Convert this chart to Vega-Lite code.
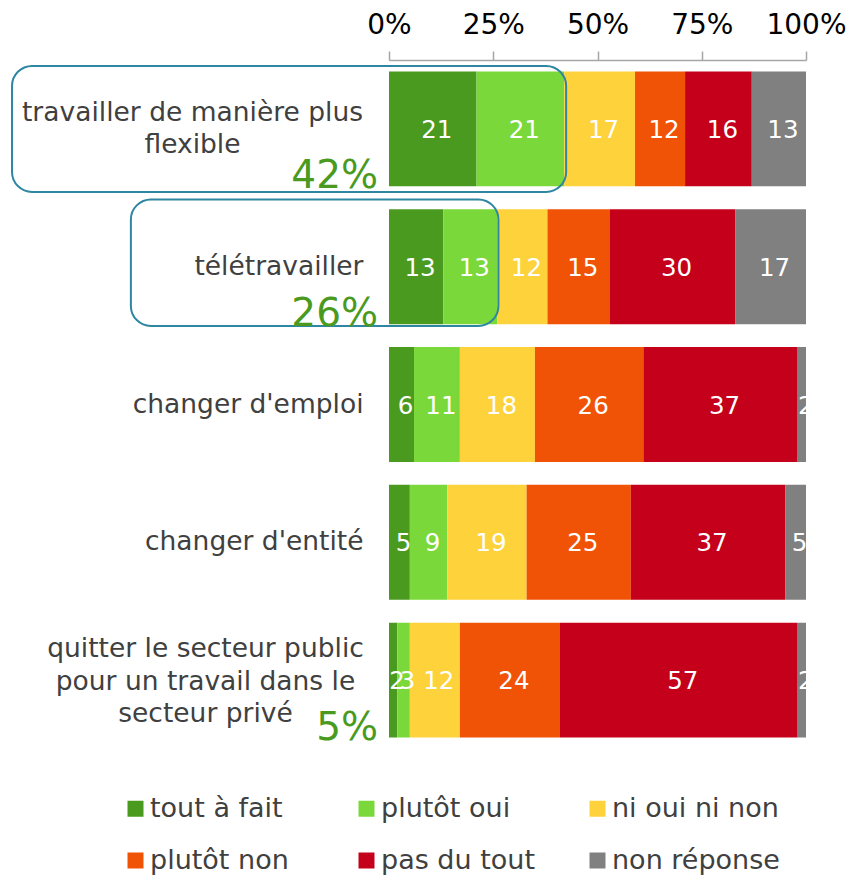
{
  "$schema": "https://vega.github.io/schema/vega-lite/v6.json",
  "width": 417,
  "height": 689,
  "autosize": {"type": "none"},
  "padding": {"left": 389, "top": 60, "right": 42, "bottom": 126},
  "background": "white",
  "config": {"font": "DejaVu Sans", "view": {"stroke": null}},
  "datasets": {
    "donnees": [
      {"question": "travailler de manière plus flexible", "reponse": "tout à fait", "code": 1, "pct": 21},
      {"question": "travailler de manière plus flexible", "reponse": "plutôt oui", "code": 2, "pct": 21},
      {"question": "travailler de manière plus flexible", "reponse": "ni oui ni non", "code": 3, "pct": 17},
      {"question": "travailler de manière plus flexible", "reponse": "plutôt non", "code": 4, "pct": 12},
      {"question": "travailler de manière plus flexible", "reponse": "pas du tout", "code": 5, "pct": 16},
      {"question": "travailler de manière plus flexible", "reponse": "non réponse", "code": 6, "pct": 13},
      {"question": "télétravailler", "reponse": "tout à fait", "code": 1, "pct": 13},
      {"question": "télétravailler", "reponse": "plutôt oui", "code": 2, "pct": 13},
      {"question": "télétravailler", "reponse": "ni oui ni non", "code": 3, "pct": 12},
      {"question": "télétravailler", "reponse": "plutôt non", "code": 4, "pct": 15},
      {"question": "télétravailler", "reponse": "pas du tout", "code": 5, "pct": 30},
      {"question": "télétravailler", "reponse": "non réponse", "code": 6, "pct": 17},
      {"question": "changer d'emploi", "reponse": "tout à fait", "code": 1, "pct": 6},
      {"question": "changer d'emploi", "reponse": "plutôt oui", "code": 2, "pct": 11},
      {"question": "changer d'emploi", "reponse": "ni oui ni non", "code": 3, "pct": 18},
      {"question": "changer d'emploi", "reponse": "plutôt non", "code": 4, "pct": 26},
      {"question": "changer d'emploi", "reponse": "pas du tout", "code": 5, "pct": 37},
      {"question": "changer d'emploi", "reponse": "non réponse", "code": 6, "pct": 2},
      {"question": "changer d'entité", "reponse": "tout à fait", "code": 1, "pct": 5},
      {"question": "changer d'entité", "reponse": "plutôt oui", "code": 2, "pct": 9},
      {"question": "changer d'entité", "reponse": "ni oui ni non", "code": 3, "pct": 19},
      {"question": "changer d'entité", "reponse": "plutôt non", "code": 4, "pct": 25},
      {"question": "changer d'entité", "reponse": "pas du tout", "code": 5, "pct": 37},
      {"question": "changer d'entité", "reponse": "non réponse", "code": 6, "pct": 5},
      {"question": "quitter le secteur public pour un travail dans le secteur privé", "reponse": "tout à fait", "code": 1, "pct": 2},
      {"question": "quitter le secteur public pour un travail dans le secteur privé", "reponse": "plutôt oui", "code": 2, "pct": 3},
      {"question": "quitter le secteur public pour un travail dans le secteur privé", "reponse": "ni oui ni non", "code": 3, "pct": 12},
      {"question": "quitter le secteur public pour un travail dans le secteur privé", "reponse": "plutôt non", "code": 4, "pct": 24},
      {"question": "quitter le secteur public pour un travail dans le secteur privé", "reponse": "pas du tout", "code": 5, "pct": 57},
      {"question": "quitter le secteur public pour un travail dans le secteur privé", "reponse": "non réponse", "code": 6, "pct": 2}
    ],
    "annotations": [
      {"question": "travailler de manière plus flexible", "total": 42, "libelle": "42%"},
      {"question": "télétravailler", "total": 26, "libelle": "26%"},
      {"question": "quitter le secteur public pour un travail dans le secteur privé", "total": 5, "libelle": "5%"}
    ]
  },
  "data": {"name": "donnees"},
  "encoding": {
    "y": {
      "field": "question",
      "type": "nominal",
      "sort": ["travailler de manière plus flexible", "télétravailler", "changer d'emploi", "changer d'entité", "quitter le secteur public pour un travail dans le secteur privé"],
      "scale": {"paddingInner": 0.166, "paddingOuter": 0.083},
      "axis": {
        "title": null,
        "domain": false,
        "ticks": false,
        "tickSize": 0,
        "labelFont": "DejaVu Sans",
        "labelFontSize": 26.5,
        "labelColor": "#404040",
        "labelLineHeight": 32.5,
        "labelLimit": 400,
        "labelBaseline": "middle",
        "labelExpr": "datum.value == 'travailler de manière plus flexible' ? ['travailler de manière plus', 'flexible'] : (datum.value == 'quitter le secteur public pour un travail dans le secteur privé' ? ['quitter le secteur public', 'pour un travail dans le', 'secteur privé'] : datum.label)",
        "labelAlign": {"condition": {"test": "datum.value == 'travailler de manière plus flexible' || datum.value == 'quitter le secteur public pour un travail dans le secteur privé'", "value": "center"}, "value": "right"},
        "labelPadding": {"condition": [{"test": "datum.value == 'travailler de manière plus flexible'", "value": 197}, {"test": "datum.value == 'quitter le secteur public pour un travail dans le secteur privé'", "value": 184}], "value": 26},
        "labelOffset": {"condition": [{"test": "datum.value == 'travailler de manière plus flexible'", "value": -16}, {"test": "datum.value == 'quitter le secteur public pour un travail dans le secteur privé'", "value": -31}], "value": 0}
      }
    }
  },
  "layer": [
    {
      "mark": {"type": "bar"},
      "encoding": {
        "x": {
          "field": "pct",
          "type": "quantitative",
          "stack": "zero",
          "scale": {"domain": [0, 100], "nice": false},
          "axis": {
            "orient": "top",
            "title": null,
            "values": [0, 25, 50, 75, 100],
            "labelExpr": "datum.value + '%'",
            "grid": false,
            "domainColor": "#a6a6a6",
            "domainWidth": 1.5,
            "tickColor": "#a6a6a6",
            "tickWidth": 1.5,
            "tickSize": 9,
            "labelFont": "DejaVu Sans",
            "labelFontSize": 28,
            "labelColor": "#000000",
            "labelPadding": 12,
            "labelFlush": false,
            "labelOverlap": false,
            "labelBound": false
          }
        },
        "color": {
          "field": "reponse",
          "type": "nominal",
          "scale": {
            "domain": ["tout à fait", "plutôt oui", "ni oui ni non", "plutôt non", "pas du tout", "non réponse"],
            "range": ["#4a9a20", "#7bd83a", "#fed23a", "#f05206", "#c4001a", "#808080"]
          },
          "legend": {
            "title": null,
            "orient": "none",
            "legendX": -267,
            "legendY": 735,
            "direction": "horizontal",
            "columns": 3,
            "gridAlign": "all",
            "columnPadding": 35,
            "rowPadding": 24,
            "padding": 0,
            "symbolType": "square",
            "symbolSize": 256,
            "symbolStrokeWidth": 0,
            "symbolOpacity": 1,
            "labelFont": "DejaVu Sans",
            "labelFontSize": 27,
            "labelColor": "#404040",
            "labelOffset": 1,
            "labelLimit": 300
          }
        },
        "order": {"field": "code", "type": "quantitative"}
      }
    },
    {
      "mark": {"type": "text", "color": "white", "fontSize": 24.5, "font": "DejaVu Sans", "dx": 4, "dy": 2, "baseline": "middle", "clip": true},
      "encoding": {
        "x": {"field": "pct", "type": "quantitative", "stack": "zero", "bandPosition": 0.5},
        "detail": {"field": "reponse", "type": "nominal"},
        "order": {"field": "code", "type": "quantitative"},
        "text": {"field": "pct", "type": "quantitative"}
      }
    },
    {
      "data": {"name": "annotations"},
      "transform": [{"filter": "datum.question == 'travailler de manière plus flexible'"}],
      "mark": {"type": "rect", "fill": "transparent", "stroke": "#2e86a2", "strokeWidth": 2, "cornerRadius": 20, "xOffset": 2, "height": {"band": 1.096}},
      "encoding": {
        "x": {"field": "total", "type": "quantitative"},
        "x2": {"datum": -90.4}
      }
    },
    {
      "data": {"name": "annotations"},
      "transform": [{"filter": "datum.question == 'télétravailler'"}],
      "mark": {"type": "rect", "fill": "transparent", "stroke": "#2e86a2", "strokeWidth": 2, "cornerRadius": 20, "xOffset": 1, "yOffset": -4, "height": {"band": 1.1}},
      "encoding": {
        "x": {"field": "total", "type": "quantitative"},
        "x2": {"datum": -61.9}
      }
    },
    {
      "data": {"name": "annotations"},
      "mark": {"type": "text", "color": "#4a9a20", "fontSize": 39, "font": "DejaVu Sans", "align": "right", "baseline": "alphabetic", "dx": -11, "dy": 2},
      "encoding": {
        "x": {"datum": 0, "type": "quantitative"},
        "y": {
          "field": "question",
          "type": "nominal",
          "bandPosition": 1,
          "sort": ["travailler de manière plus flexible", "télétravailler", "changer d'emploi", "changer d'entité", "quitter le secteur public pour un travail dans le secteur privé"]
        },
        "text": {"field": "libelle"}
      }
    }
  ]
}
